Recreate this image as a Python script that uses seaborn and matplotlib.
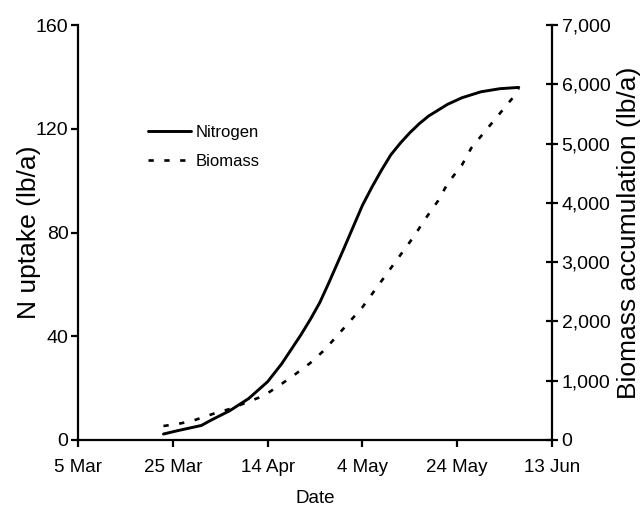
import pandas as pd
import matplotlib
matplotlib.use("Agg")
import matplotlib.pyplot as plt
from matplotlib.ticker import FuncFormatter
import seaborn as sns

# values
n_dates = ["2021-03-23", "2021-03-26", "2021-03-31", "2021-04-02", "2021-04-06",
           "2021-04-10", "2021-04-14", "2021-04-17", "2021-04-19", "2021-04-21",
           "2021-04-23", "2021-04-25", "2021-04-27", "2021-04-30", "2021-05-02",
           "2021-05-04", "2021-05-06", "2021-05-08", "2021-05-10", "2021-05-12",
           "2021-05-14", "2021-05-16", "2021-05-18", "2021-05-22", "2021-05-25",
           "2021-05-29", "2021-06-02", "2021-06-06"]
n_uptake = [2.3, 3.6, 5.6, 7.6, 11.3,
            16, 22.5, 29.5, 35, 40.5,
            46.5, 53, 61, 73.5, 82,
            90.5, 97.5, 104, 110, 114.5,
            118.5, 122, 125, 129.5, 132,
            134.3, 135.5, 136]

b_dates = ["2021-03-23", "2021-03-26", "2021-03-29", "2021-04-03", "2021-04-06",
           "2021-04-12", "2021-04-14", "2021-04-17", "2021-04-20", "2021-04-23",
           "2021-04-26", "2021-04-28", "2021-05-01", "2021-05-04", "2021-05-08",
           "2021-05-12", "2021-05-15", "2021-05-17", "2021-05-20", "2021-05-22",
           "2021-05-25", "2021-05-27", "2021-05-30", "2021-06-02", "2021-06-05",
           "2021-06-06"]
biomass = [236, 270, 320, 455, 523, 710, 790, 950, 1120, 1300,
           1520, 1700, 1970, 2240, 2680, 3120, 3450, 3700, 4040, 4330,
           4640, 4930, 5220, 5510, 5800, 5940]

date_ticks = ["2021-03-05", "2021-03-25", "2021-04-14", "2021-05-04", "2021-05-24", "2021-06-13"]
date_labels = ["5 Mar", "25 Mar", "14 Apr", "4 May", "24 May", "13 Jun"]
n_ticks = [0, 40, 80, 120, 160]
b_ticks = [0, 1000, 2000, 3000, 4000, 5000, 6000, 7000]

nitrogen_df = pd.DataFrame({"Date": pd.to_datetime(n_dates), "N": n_uptake})
biomass_df = pd.DataFrame({"Date": pd.to_datetime(b_dates), "Biomass": biomass})

sns.set_style("ticks")
plt.rcParams["font.family"] = ["Liberation Sans", "DejaVu Sans"]
plt.rcParams["text.color"] = "black"
plt.rcParams["axes.labelcolor"] = "black"
plt.rcParams["xtick.color"] = "black"
plt.rcParams["ytick.color"] = "black"

fig = plt.figure(figsize=(6.41, 5.14), dpi=100)
ax = fig.add_axes([0.122, 0.144, 0.739, 0.807])
ax2 = ax.twinx()

sns.lineplot(data=nitrogen_df, x="Date", y="N", ax=ax, color="black",
             linewidth=2.1, label="Nitrogen", legend=False)
sns.lineplot(data=biomass_df, x="Date", y="Biomass", ax=ax2, color="black",
             linewidth=1.9, linestyle=(0, (2.0, 4.0)), label="Biomass", legend=False)

ax.set_xlim(pd.Timestamp(date_ticks[0]), pd.Timestamp(date_ticks[-1]))
ax.set_ylim(0, 160)
ax2.set_ylim(0, 7000)
ax.set_xticks(pd.to_datetime(date_ticks))
ax.set_xticklabels(date_labels)
ax.set_yticks(n_ticks)
ax2.set_yticks(b_ticks)
ax2.yaxis.set_major_formatter(FuncFormatter(lambda v, p: f"{int(v):,}"))

for a in (ax, ax2):
    for s in a.spines.values():
        s.set_linewidth(1.6)
        s.set_color("black")
    a.spines["top"].set_visible(False)
ax.spines["right"].set_visible(False)
ax2.spines["left"].set_visible(False)
ax2.spines["bottom"].set_visible(False)

ax.tick_params(axis="x", labelsize=13.5, width=1.6, length=5, pad=9)
ax.tick_params(axis="y", labelsize=14, width=1.6, length=5, pad=2)
ax2.tick_params(axis="y", labelsize=14, width=1.6, length=8, direction="inout", pad=3)

ax.set_xlabel("Date", fontsize=13.5, labelpad=10)
ax.set_ylabel("N uptake (lb/a)", fontsize=19)
ax2.set_ylabel("Biomass accumulation (lb/a)", fontsize=19, labelpad=5)
ax.yaxis.set_label_coords(-0.078, 0.5)

handles = ax.get_lines()[:1] + ax2.get_lines()[:1]
ax.legend(handles, ["Nitrogen", "Biomass"], loc="upper left",
          bbox_to_anchor=(0.115, 0.795), frameon=False, fontsize=12,
          handlelength=2.6, handletextpad=0.3, labelspacing=0.8)

fig.savefig("out.png", dpi=100)
